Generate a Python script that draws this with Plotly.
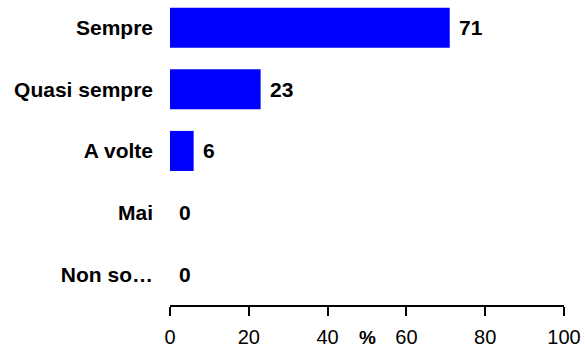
import plotly.graph_objects as go

# Survey answers and their percentages
categories = ["Sempre", "Quasi sempre", "A volte", "Mai", "Non so…"]
values = [71, 23, 6, 0, 0]
x_ticks = [0, 20, 40, 60, 80, 100]

positions = list(range(len(categories)))
font_family = "Liberation Sans, Arial, sans-serif"

fig = go.Figure(
    go.Bar(
        x=values,
        y=positions,
        orientation="h",
        width=0.65,
        marker=dict(color="#0000FF", line=dict(width=0)),
        hoverinfo="skip",
    )
)

# Value labels just past the end of each bar
for pos, val in zip(positions, values):
    fig.add_annotation(
        x=val, y=pos, text=f"<b>{val}</b>", showarrow=False,
        xanchor="left", yanchor="middle", xshift=7,
        font=dict(family=font_family, size=21, color="black"),
    )

# Unit marker placed among the x tick labels
fig.add_annotation(
    x=50, y=0, xref="x", yref="paper", text="<b>%</b>", showarrow=False,
    xanchor="center", yanchor="bottom", yshift=-44, borderpad=0,
    font=dict(family=font_family, size=19, color="black"),
)

fig.update_layout(
    template="none",
    width=585, height=349,
    margin=dict(l=170, r=21, t=0, b=44),
    paper_bgcolor="white", plot_bgcolor="white",
    showlegend=False,
    xaxis=dict(
        range=[0, 100], tickvals=x_ticks, ticktext=[str(t) for t in x_ticks],
        showgrid=False, zeroline=False, automargin=False,
        showline=True, linecolor="black", linewidth=2,
        ticks="outside", ticklen=9, tickwidth=2, tickcolor="black",
        ticklabelstandoff=4,
        tickfont=dict(family=font_family, size=20, color="black"),
        fixedrange=True,
    ),
    yaxis=dict(
        range=[4.5, -0.45], automargin=False,
        tickvals=positions, ticktext=[f"<b>{c}</b>" for c in categories],
        showgrid=False, zeroline=False, showline=False, ticks="",
        ticklabelstandoff=16,
        tickfont=dict(family=font_family, size=21, color="black"),
        fixedrange=True,
    ),
)

fig.write_html("out.html")
